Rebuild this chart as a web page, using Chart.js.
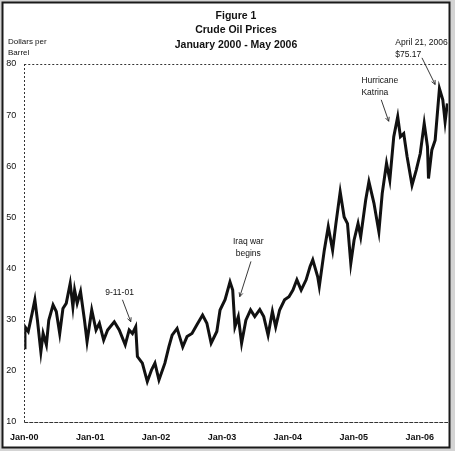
<!DOCTYPE html>
<html>
<head>
<meta charset="utf-8">
<script src="https://cdn.jsdelivr.net/npm/chart.js@4/dist/chart.umd.min.js"></script>
<style>
  html, body { margin: 0; padding: 0; background: #d4d4d4; }
  #wrap { width: 455px; height: 451px; position: relative; }
</style>
</head>
<body>
<div id="wrap"><canvas id="c" width="455" height="451"></canvas></div>
<script>
// ---- data ----
const titleLines = ['Figure 1', 'Crude Oil Prices', 'January 2000 - May 2006'];
const yAxisTitle = ['Dollars per', 'Barrel'];
const xTickLabels = ['Jan-00', 'Jan-01', 'Jan-02', 'Jan-03', 'Jan-04', 'Jan-05', 'Jan-06'];
const yTicks = [10, 20, 30, 40, 50, 60, 70, 80];

// time as years since January 2000
const yearsSince2000 = [
  0.000, 0.011, 0.060, 0.120, 0.161, 0.200, 0.252, 0.286, 0.336, 0.372,
  0.437, 0.486, 0.538, 0.587, 0.637, 0.697, 0.738, 0.764, 0.803, 0.854,
  0.914, 0.953, 1.024, 1.089, 1.140, 1.205, 1.265, 1.366, 1.441, 1.532,
  1.592, 1.642, 1.691, 1.717, 1.792, 1.867, 1.932, 1.983, 2.044, 2.134,
  2.194, 2.244, 2.319, 2.405, 2.470, 2.545, 2.620, 2.706, 2.771, 2.836,
  2.922, 2.971, 3.047, 3.122, 3.163, 3.197, 3.248, 3.298, 3.363, 3.434,
  3.498, 3.574, 3.634, 3.700, 3.765, 3.815, 3.875, 3.950, 4.017, 4.077,
  4.137, 4.202, 4.277, 4.337, 4.378, 4.453, 4.477, 4.553, 4.613, 4.679,
  4.729, 4.794, 4.854, 4.905, 4.955, 5.005, 5.065, 5.105, 5.181, 5.230,
  5.306, 5.381, 5.432, 5.497, 5.547, 5.607, 5.667, 5.708, 5.758, 5.809,
  5.884, 5.949, 6.009, 6.069, 6.119, 6.134, 6.185, 6.235, 6.300, 6.351,
  6.386, 6.420
];
const pricesUSD = [
  24.5, 28.6, 27.7, 31.3, 33.9, 29.9, 23.7, 27.3, 25.1, 29.9,
  32.9, 31.6, 27.3, 32.2, 33.2, 37.1, 32.5, 35.8, 33.2, 35.5,
  29.9, 25.7, 31.9, 28.0, 29.3, 26.0, 28.0, 29.6, 28.0, 25.1,
  28.0, 27.3, 28.6, 22.8, 21.5, 17.9, 20.2, 21.5, 18.2, 21.5,
  24.7, 27.0, 28.3, 24.7, 26.7, 27.3, 29.0, 30.9, 29.3, 25.4,
  27.7, 31.9, 33.9, 37.4, 35.8, 28.6, 30.6, 25.4, 29.9, 31.9,
  30.6, 32.0, 30.6, 27.0, 31.6, 28.6, 31.9, 33.9, 34.5, 35.8,
  37.8, 35.8, 37.8, 40.4, 41.7, 38.4, 36.5, 43.6, 48.2, 43.6,
  48.8, 55.0, 50.1, 48.8, 41.0, 45.6, 48.8, 46.2, 53.4, 57.0,
  52.8, 47.2, 54.7, 60.6, 57.3, 65.8, 69.7, 65.8, 66.4, 61.9,
  56.3, 59.3, 62.5, 68.4, 63.8, 57.6, 63.2, 65.1, 75.2, 73.0,
  68.7, 72.3
];

// annotations: text anchored in data coordinates (years, dollars), arrows from -> to
const annotations = [
  { lines: ['9-11-01'], x: 1.446, y: 35.2, align: 'center', from: [1.49, 33.9], to: [1.616, 29.6] },
  { lines: ['Iraq war', 'begins'], x: 3.40, y: 45.3, align: 'center', from: [3.44, 41.4], to: [3.27, 34.5] },
  { lines: ['Hurricane', 'Katrina'], x: 5.116, y: 76.8, align: 'left', from: [5.417, 73.0], to: [5.53, 68.8] },
  { lines: ['April 21, 2006', '$75.17'], x: 5.63, y: 84.2, align: 'left', from: [6.035, 81.2], to: [6.235, 76.0] }
];

const FONT = '"Liberation Sans", Arial, sans-serif';

const decorPlugin = {
  id: 'decor',
  beforeDraw(chart) {
    const ctx = chart.ctx;
    ctx.save();
    ctx.fillStyle = '#d4d4d4';
    ctx.fillRect(0, 0, chart.width, chart.height);
    ctx.fillStyle = '#ffffff';
    ctx.fillRect(3, 3, 446, 444);
    ctx.restore();
  },
  afterDraw(chart) {
    const ctx = chart.ctx;
    const xs = chart.scales.x, ys = chart.scales.y;
    ctx.save();
    // frame
    ctx.strokeStyle = '#1a1a1a';
    ctx.lineWidth = 2;
    ctx.strokeRect(2.5, 2.5, 447, 445);

    // dotted axis lines
    ctx.strokeStyle = '#333';
    ctx.lineWidth = 1;
    ctx.setLineDash([2, 2]);
    const x0 = xs.getPixelForValue(0), x1 = xs.right;
    const yTop = ys.getPixelForValue(80), yBot = ys.getPixelForValue(10);
    ctx.beginPath(); ctx.moveTo(x0, Math.round(yTop) + 0.5); ctx.lineTo(x1, Math.round(yTop) + 0.5); ctx.stroke();
    ctx.beginPath(); ctx.moveTo(Math.round(x0) + 0.5, yTop); ctx.lineTo(Math.round(x0) + 0.5, yBot); ctx.stroke();
    ctx.setLineDash([4, 1]);
    ctx.beginPath(); ctx.moveTo(x0, Math.round(yBot) + 0.5); ctx.lineTo(x1, Math.round(yBot) + 0.5); ctx.stroke();
    ctx.setLineDash([]);

    // title
    ctx.fillStyle = '#111';
    ctx.textAlign = 'center';
    ctx.textBaseline = 'middle';
    ctx.font = 'bold 10.5px ' + FONT;
    titleLines.forEach((t, i) => ctx.fillText(t, 236, 16 + i * 14.5));

    // y axis title
    ctx.font = '8px ' + FONT;
    ctx.textAlign = 'left';
    yAxisTitle.forEach((t, i) => ctx.fillText(t, 8, 41.5 + i * 10.8));

    // annotations
    ctx.font = '8.5px ' + FONT;
    ctx.strokeStyle = '#222';
    ctx.lineWidth = 0.9;
    annotations.forEach(a => {
      ctx.textAlign = a.align;
      const px = xs.getPixelForValue(a.x);
      const py = ys.getPixelForValue(a.y);
      a.lines.forEach((t, i) => ctx.fillText(t, px, py + i * 12.5));
      const fx = xs.getPixelForValue(a.from[0]), fy = ys.getPixelForValue(a.from[1]);
      const tx = xs.getPixelForValue(a.to[0]), ty = ys.getPixelForValue(a.to[1]);
      ctx.beginPath(); ctx.moveTo(fx, fy); ctx.lineTo(tx, ty); ctx.stroke();
      const ang = Math.atan2(ty - fy, tx - fx);
      const L = 4.5;
      ctx.beginPath();
      ctx.moveTo(tx - L * Math.cos(ang - 0.45), ty - L * Math.sin(ang - 0.45));
      ctx.lineTo(tx, ty);
      ctx.lineTo(tx - L * Math.cos(ang + 0.45), ty - L * Math.sin(ang + 0.45));
      ctx.stroke();
    });
    ctx.restore();
  }
};

new Chart(document.getElementById('c'), {
  type: 'line',
  data: {
    datasets: [{
      data: yearsSince2000.map((t, i) => ({ x: t, y: pricesUSD[i] })),
      borderColor: '#111',
      borderWidth: 3,
      pointRadius: 0,
      tension: 0,
      borderJoinStyle: 'miter'
    }]
  },
  options: {
    responsive: false,
    animation: false,
    layout: { padding: { top: 64, right: 7, left: 0, bottom: 0 } },
    plugins: { legend: { display: false }, tooltip: { enabled: false }, title: { display: false } },
    scales: {
      x: {
        type: 'linear',
        min: 0,
        max: 6.43,
        afterBuildTicks: s => { s.ticks = xTickLabels.map((_, i) => ({ value: i })); },
        afterFit: s => { s.height = 29; },
        grid: { display: false, drawTicks: false },
        border: { display: false },
        ticks: {
          padding: 10,
          maxRotation: 0,
          autoSkip: false,
          color: '#111',
          font: { family: FONT, size: 9, weight: 'bold' },
          callback: v => xTickLabels[v]
        }
      },
      y: {
        min: 10,
        max: 80,
        afterBuildTicks: s => { s.ticks = yTicks.map(v => ({ value: v })); },
        afterFit: s => { s.width = 21; },
        grid: { display: false, drawTicks: false },
        border: { display: false },
        ticks: {
          padding: 8,
          color: '#111',
          font: { family: FONT, size: 9 },
          callback: v => String(v)
        }
      }
    }
  },
  plugins: [decorPlugin]
});
</script>
</body>
</html>
